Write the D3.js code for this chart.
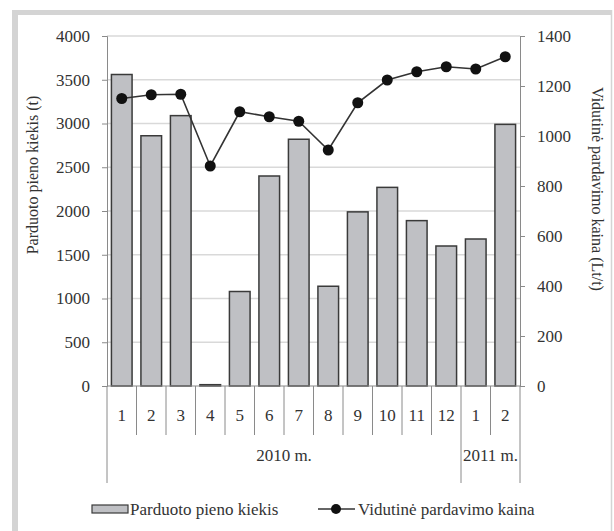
<!DOCTYPE html>
<html>
<head>
<meta charset="utf-8">
<script src="https://cdn.jsdelivr.net/npm/d3@7"></script>
<style>
  body { margin: 0; background: #fff; }
</style>
</head>
<body>
<svg width="614" height="531"></svg>
<script>
// months (2010: 1..12, 2011: 1..2)
var months = ["1", "2", "3", "4", "5", "6", "7", "8", "9", "10", "11", "12", "1", "2"];
var years = [
    { label: "2010 m.", from: 0, to: 12 },
    { label: "2011 m.", from: 12, to: 14 }
];
// sold milk quantity (t)
var quantity = [3560, 2860, 3090, 15, 1080, 2400, 2820, 1140, 1990, 2270, 1890, 1600, 1680, 2990];
// average selling price (Lt/t)
var price = [1150, 1165, 1167, 880, 1097, 1077, 1059, 944, 1133, 1224, 1257, 1277, 1268, 1317];

var leftTicks = [0, 500, 1000, 1500, 2000, 2500, 3000, 3500, 4000];
var rightTicks = [0, 200, 400, 600, 800, 1000, 1200, 1400];

var FONT = "'Liberation Serif', 'Times New Roman', 'DejaVu Serif', serif";

var svg = d3.select("svg"),
    width = +svg.attr("width"),
    height = +svg.attr("height");

var plot = { left: 107, right: 520, top: 36, bottom: 386 };
var axisCol = "#8a8a8a";
var textCol = "#333";

// frame
svg.append("rect").attr("x", 12).attr("y", 10).attr("width", 6).attr("height", 521).attr("fill", "#d4d4d4");
svg.append("rect").attr("x", 12).attr("y", 10).attr("width", 600).attr("height", 5).attr("fill", "#d4d4d4");
svg.append("line").attr("x1", 611.5).attr("x2", 611.5).attr("y1", 10).attr("y2", 531)
    .attr("stroke", "#d4d4d4").attr("stroke-width", 1.5);

var x = d3.scaleBand()
    .domain(d3.range(months.length))
    .range([plot.left, plot.right])
    .paddingInner(0.3)
    .paddingOuter(0.15);

var y = d3.scaleLinear().domain([0, 4000]).range([plot.bottom, plot.top]);
var y2 = d3.scaleLinear().domain([0, 1400]).range([plot.bottom, plot.top]);

// gridlines
svg.append("g")
    .selectAll("line")
    .data(leftTicks.filter(function(d) { return d > 0; }))
    .enter().append("line")
        .attr("x1", plot.left).attr("x2", plot.right)
        .attr("y1", function(d) { return y(d); })
        .attr("y2", function(d) { return y(d); })
        .attr("stroke", "#d9d9d9")
        .attr("stroke-width", 1.5);

// left axis
var gLeft = svg.append("g")
    .attr("transform", "translate(" + plot.left + ",0)")
    .call(d3.axisLeft(y).tickValues(leftTicks).tickFormat(d3.format("d"))
        .tickSizeOuter(0).tickSize(5).tickPadding(12));
gLeft.attr("font-family", FONT).attr("font-size", 17);
gLeft.select(".domain").attr("stroke", axisCol);
gLeft.selectAll(".tick line").attr("stroke", axisCol);
gLeft.selectAll("text").attr("fill", textCol);

// right axis
var gRight = svg.append("g")
    .attr("transform", "translate(" + plot.right + ",0)")
    .call(d3.axisRight(y2).tickValues(rightTicks).tickFormat(d3.format("d"))
        .tickSizeOuter(0).tickSize(5).tickPadding(12));
gRight.attr("font-family", FONT).attr("font-size", 17);
gRight.select(".domain").attr("stroke", axisCol);
gRight.selectAll(".tick line").attr("stroke", axisCol);
gRight.selectAll("text").attr("fill", textCol);

// bars
svg.append("g")
    .selectAll("rect")
    .data(quantity)
    .enter().append("rect")
        .attr("x", function(d, i) { return x(i); })
        .attr("y", function(d) { return y(d); })
        .attr("width", x.bandwidth())
        .attr("height", function(d) { return y(0) - y(d); })
        .attr("fill", "#bfc0c4")
        .attr("stroke", "#3a3a3a")
        .attr("stroke-width", 1.5);

// baseline
svg.append("line")
    .attr("x1", plot.left).attr("x2", plot.right)
    .attr("y1", plot.bottom).attr("y2", plot.bottom)
    .attr("stroke", axisCol).attr("stroke-width", 1.2);

// category separators
var step = x.step();
var edges = d3.range(months.length + 1);
var longEdges = [0, 12, 14];
svg.append("g")
    .selectAll("line")
    .data(edges)
    .enter().append("line")
        .attr("x1", function(i) { return plot.left + i * step; })
        .attr("x2", function(i) { return plot.left + i * step; })
        .attr("y1", plot.bottom)
        .attr("y2", function(i) { return longEdges.indexOf(i) >= 0 ? 483 : 435; })
        .attr("stroke", axisCol).attr("stroke-width", 1);

var labels = svg.append("g")
    .attr("font-family", FONT)
    .attr("font-size", 17)
    .attr("fill", textCol);

labels.selectAll(".month")
    .data(months)
    .enter().append("text")
        .attr("class", "month")
        .attr("x", function(d, i) { return x(i) + x.bandwidth() / 2; })
        .attr("y", 421)
        .attr("text-anchor", "middle")
        .text(function(d) { return d; });

labels.selectAll(".year")
    .data(years)
    .enter().append("text")
        .attr("class", "year")
        .attr("x", function(d) { return plot.left + (d.from + d.to) / 2 * step; })
        .attr("y", 461)
        .attr("text-anchor", "middle")
        .text(function(d) { return d.label; });

// price line
var line = d3.line()
    .x(function(d, i) { return x(i) + x.bandwidth() / 2; })
    .y(function(d) { return y2(d); });

svg.append("path")
    .datum(price)
    .attr("d", line)
    .attr("fill", "none")
    .attr("stroke", "#333")
    .attr("stroke-width", 1.6);

svg.append("g")
    .selectAll("circle")
    .data(price)
    .enter().append("circle")
        .attr("cx", function(d, i) { return x(i) + x.bandwidth() / 2; })
        .attr("cy", function(d) { return y2(d); })
        .attr("r", 5.5)
        .attr("fill", "#111");

// axis titles
labels.append("text")
    .attr("transform", "translate(38,175) rotate(-90)")
    .attr("text-anchor", "middle")
    .attr("font-size", 16)
    .text("Parduoto pieno kiekis (t)");

labels.append("text")
    .attr("transform", "translate(592,189) rotate(90)")
    .attr("text-anchor", "middle")
    .attr("font-size", 16)
    .text("Vidutinė pardavimo kaina (Lt/t)");

// legend
var legend = svg.append("g");
legend.append("rect")
    .attr("x", 92).attr("y", 505).attr("width", 36).attr("height", 8)
    .attr("fill", "#bfc0c4").attr("stroke", "#3a3a3a").attr("stroke-width", 1.2);
legend.append("line")
    .attr("x1", 318).attr("x2", 355).attr("y1", 509).attr("y2", 509)
    .attr("stroke", "#333").attr("stroke-width", 1.6);
legend.append("circle")
    .attr("cx", 336).attr("cy", 509).attr("r", 5).attr("fill", "#111");
labels.append("text")
    .attr("x", 130).attr("y", 515)
    .text("Parduoto pieno kiekis");
labels.append("text")
    .attr("x", 358).attr("y", 515)
    .text("Vidutinė pardavimo kaina");
</script>
</body>
</html>
